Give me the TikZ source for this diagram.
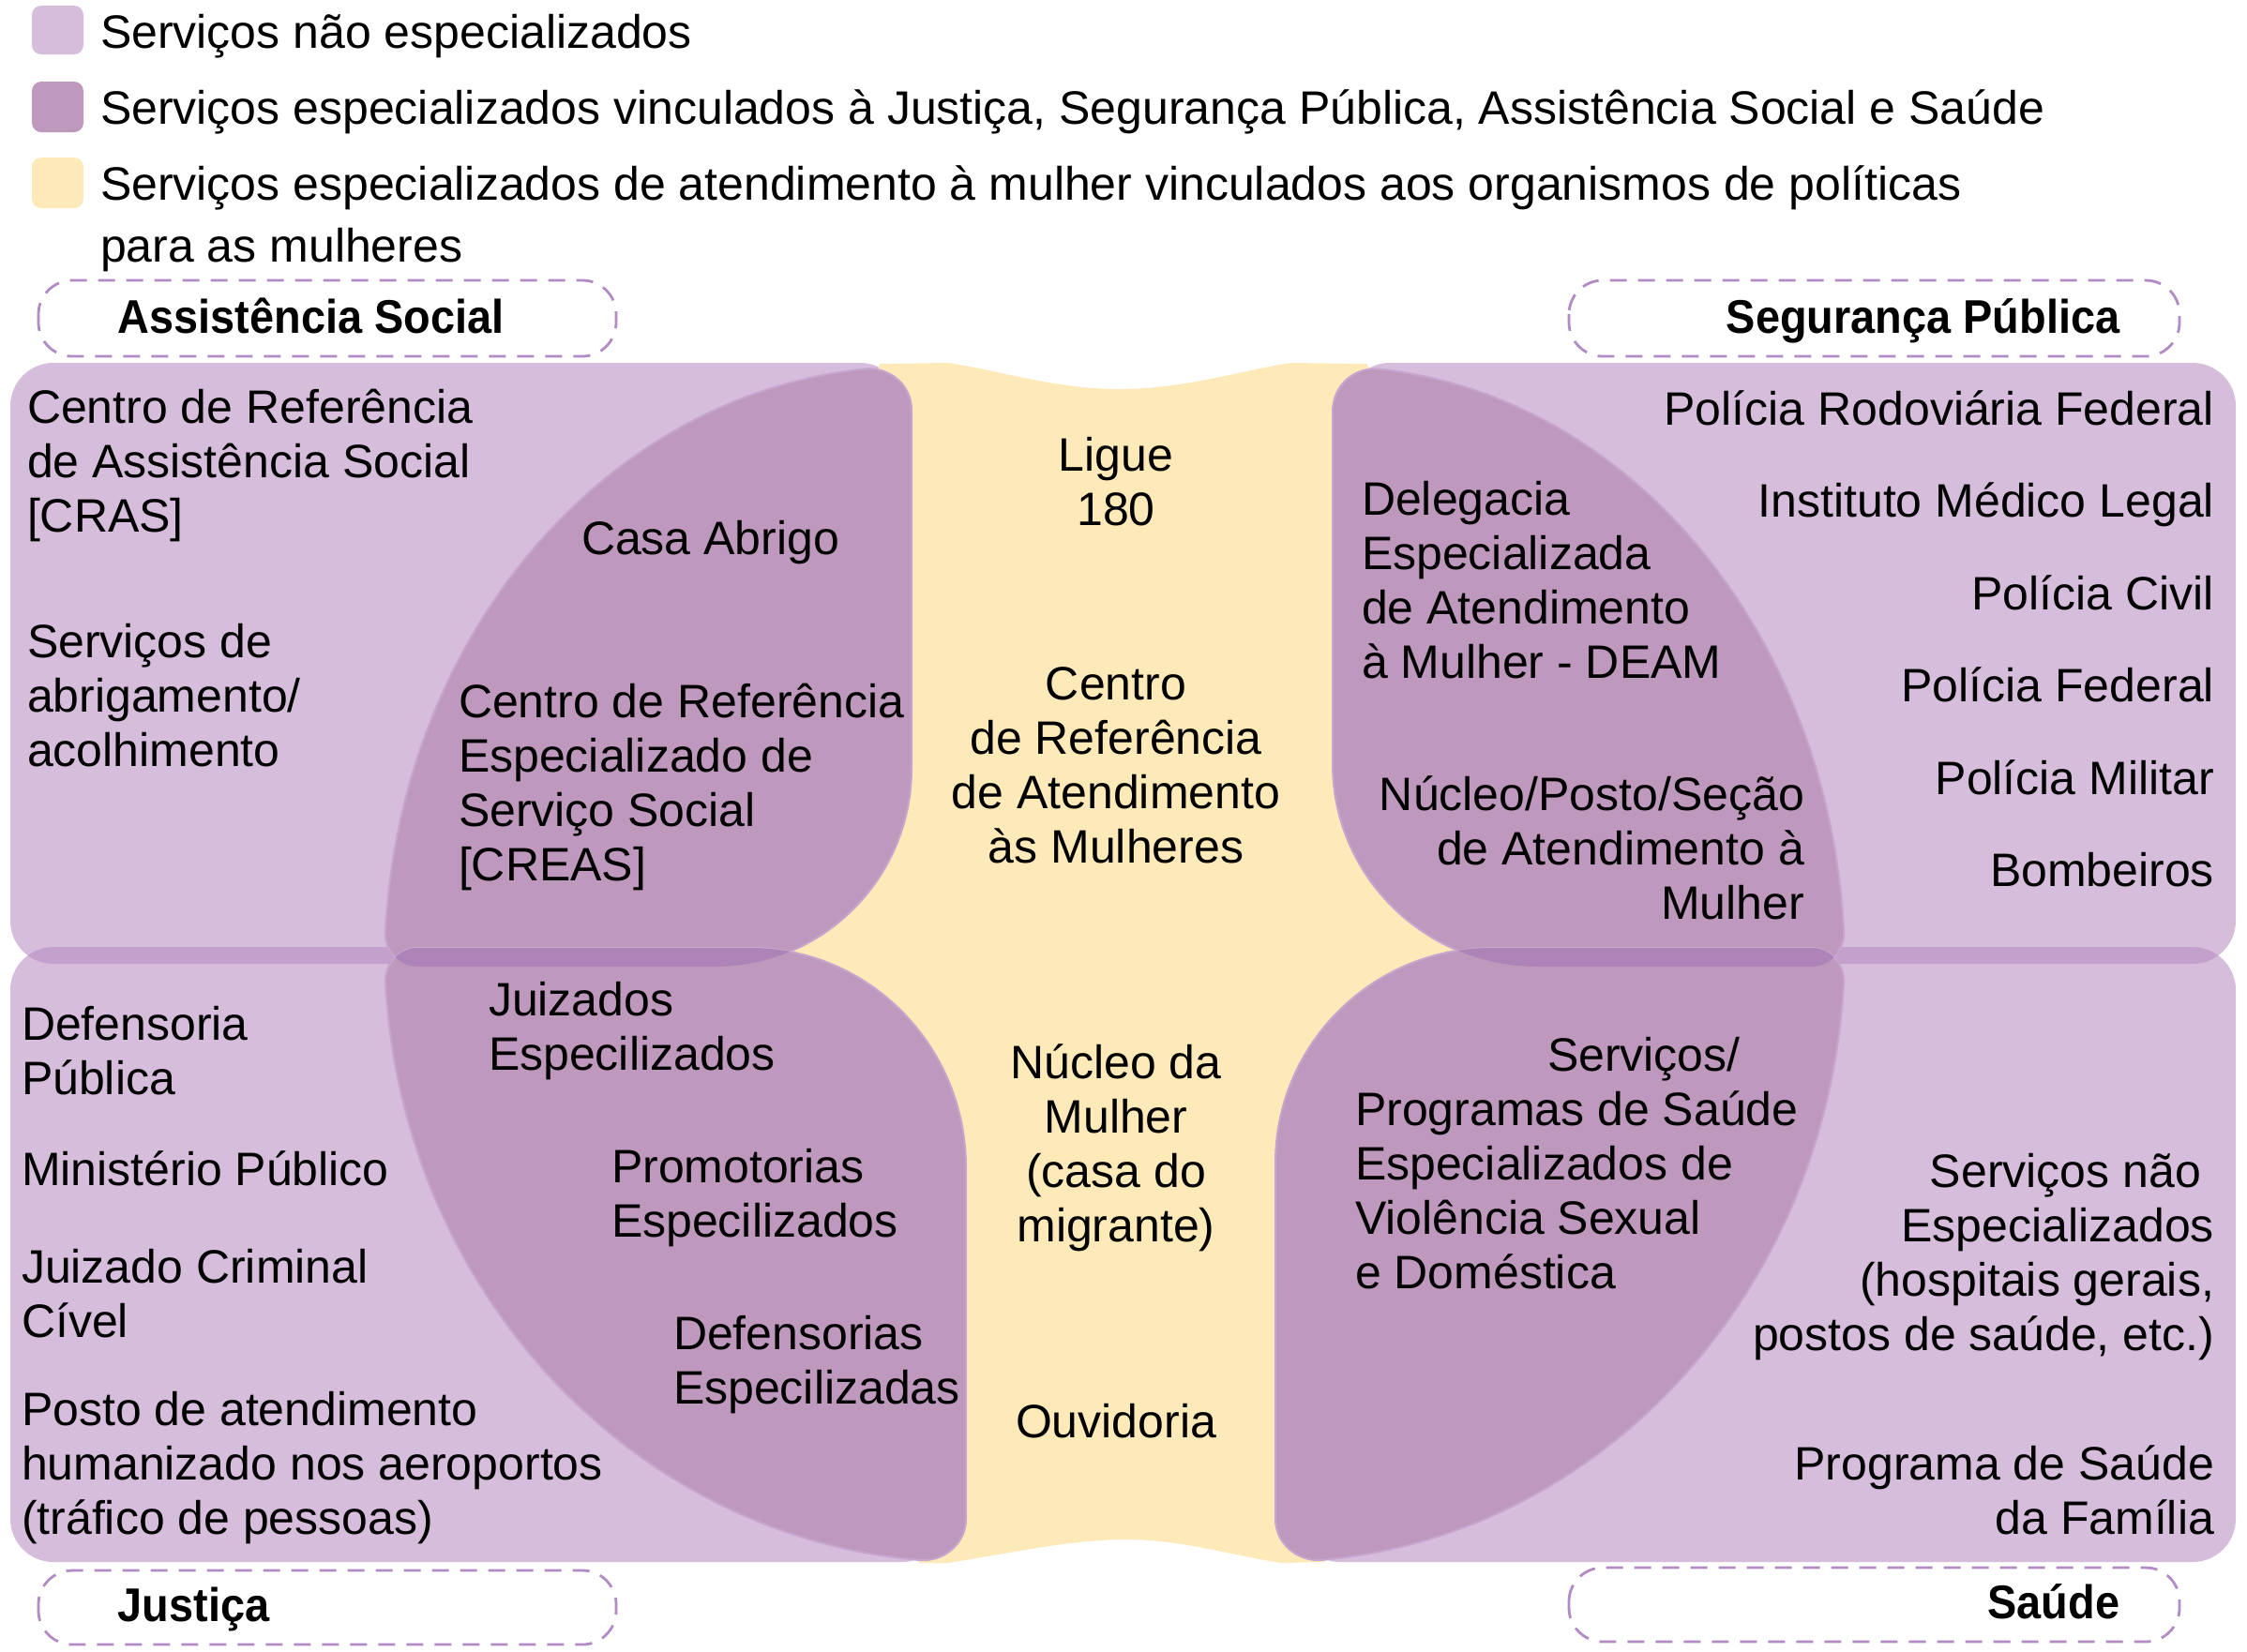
\documentclass[tikz,border=0pt]{standalone}
\usepackage{fontspec}
\setmainfont{Liberation Sans}
\newfontfamily\lblfont{Liberation Sans}[FakeStretch=0.93]
\definecolor{lightP}{HTML}{D5BDDB}
\definecolor{darkP}{HTML}{BF99BD}
\definecolor{yel}{HTML}{FEEAB9}
\definecolor{bandL}{HTML}{C3A1CC}
\definecolor{bandD}{HTML}{AE83B8}
\definecolor{dashC}{HTML}{B28BC4}
\definecolor{edgeC}{HTML}{C6A6CE}
\newcommand\pTL{(445,1031) .. controls (427,1031) and (410.8,1015) .. (410.8,996) arc[start angle=183.13,end angle=265.3,x radius=562,y radius=640] .. controls (951,393) and (972,412) .. (972,437) -- (972,820) .. controls (972,936) and (878,1031) .. (762,1031) -- cycle}
\newcommand\pBL{(445,1011) .. controls (427,1011) and (410.9,1027) .. (410.9,1046) arc[start angle=176.94,end angle=94.26,x radius=620,y radius=655] .. controls (1009,1664) and (1030,1645) .. (1030,1620) -- (1030,1245) .. controls (1030,1116) and (927,1011) .. (800,1011) -- cycle}
\newcommand\pTR{(1932,1031) .. controls (1950,1031) and (1966.2,1015) .. (1966.2,996) arc[start angle=356.87,end angle=274.83,x radius=546,y radius=640] .. controls (1442,393) and (1421,412) .. (1421,439) -- (1421,815) .. controls (1421,934) and (1519,1031) .. (1640,1031) -- cycle}
\newcommand\pBR{(1932,1011) .. controls (1950,1011) and (1966.1,1027) .. (1966.1,1046) arc[start angle=3.06,end angle=85.65,x radius=607,y radius=655] .. controls (1381,1664) and (1360,1645) .. (1360,1620) -- (1360,1240) .. controls (1360,1114) and (1463,1011) .. (1590,1011) -- cycle}
\newcommand\pLTL{(11,387) rectangle (963,1028)}
\newcommand\pLBL{(11,1010) rectangle (1008,1666)}
\newcommand\pLTR{(1436,387) rectangle (2384,1028)}
\newcommand\pLBR{(1383,1010) rectangle (2384,1666)}
\begin{document}
\begin{tikzpicture}[x=0.25pt,y=0.25pt,yscale=-1,
  txt/.style={font=\fontsize{12.5pt}{14.5pt}\selectfont, inner sep=0pt, outer sep=0pt},
  lbl/.style={font=\lblfont\bfseries\fontsize{12.6pt}{14.5pt}\selectfont, inner sep=0pt},
  panel/.style={fill=lightP, rounded corners=11.5pt},
  bandl/.style={fill=bandL, rounded corners=11.5pt},
  darkshape/.style={fill=darkP, draw=edgeC, line width=0.5pt},
  dashbox/.style={draw=dashC, line width=0.7pt, dash pattern=on 4.5pt off 3pt, rounded corners=9pt},
  legsq/.style={rounded corners=2.5pt}]
\useasboundingbox (0,0) rectangle (2396,1761);
% legend
\fill[lightP, legsq] (34,6) rectangle (89,58);
\fill[darkP, legsq] (34,87) rectangle (89,141);
\fill[yel, legsq] (34,168) rectangle (89,222);
\node[txt, anchor=base west] (leg1) at (107,51) {Serviços não especializados};
\node[txt, anchor=base west] (leg2) at (107,132) {Serviços especializados vinculados à Justiça, Segurança Pública, Assistência Social e Saúde};
\node[txt, anchor=base west, align=left, font=\fontsize{12.5pt}{16.5pt}\selectfont] (leg3) at (107,279) {Serviços especializados de atendimento à mulher vinculados aos organismos de políticas\\para as mulheres};
% dashed labels
\draw[dashbox] (41,299) rectangle (657,380);
\draw[dashbox] (1673,299) rectangle (2324,380);
\draw[dashbox] (41,1675) rectangle (657,1754);
\draw[dashbox] (1673,1672) rectangle (2324,1751);
\node[lbl, anchor=base west] (lAS) at (125,355) {Assistência Social};
\node[lbl, anchor=base east] (lSP) at (2261,355) {Segurança Pública};
\node[lbl, anchor=base west] (lJ) at (125,1729) {Justiça};
\node[lbl, anchor=base east] (lS) at (2261,1726) {Saúde};
% light panels
\fill[panel] \pLTL;
\fill[panel] \pLBL;
\fill[panel] \pLTR;
\fill[panel] \pLBR;
\begin{scope}\clip[rounded corners=11.5pt] \pLTL; \fill[bandl] \pLBL;\end{scope}
\begin{scope}\clip[rounded corners=11.5pt] \pLTR; \fill[bandl] \pLBR;\end{scope}
% yellow centre
\fill[yel] (938,388) -- (1011,387) .. controls (1065,395) and (1125,415) .. (1194,415) .. controls (1263,415) and (1323,395) .. (1377,387) -- (1458,388) -- (1590,1011) -- (1413,1666) -- (1366,1667) .. controls (1300,1656) and (1258,1642) .. (1200,1642) .. controls (1142,1642) and (1080,1656) .. (1011,1667) -- (980,1667) -- (795,1011) -- cycle;
% dark shapes
\path[darkshape] \pTL;
\path[darkshape] \pBL;
\path[darkshape] \pTR;
\path[darkshape] \pBR;
\begin{scope}\clip \pTL; \fill[bandD] \pBL;\end{scope}
\begin{scope}\clip \pTR; \fill[bandD] \pBR;\end{scope}
% texts top-left
\node[txt, anchor=base west, align=left] (cras) at (29,567) {Centro de Referência\\de Assistência Social\\{[CRAS]}};
\node[txt, anchor=base west, align=left] (abrig) at (29,817) {Serviços de\\abrigamento/\\acolhimento};
\node[txt, anchor=base west] (casa) at (620,591) {Casa Abrigo};
\node[txt, anchor=base west, align=left] (creas) at (489,939) {Centro de Referência\\Especializado de\\Serviço Social\\{[CREAS]}};
% centre
\node[txt, anchor=base, align=center] (ligue) at (1190,560) {Ligue\\180};
\node[txt, anchor=base, align=center] (cram) at (1190,920) {Centro\\de Referência\\de Atendimento\\às Mulheres};
\node[txt, anchor=base, align=center] (nucm) at (1190,1324) {Núcleo da\\Mulher\\(casa do\\migrante)};
\node[txt, anchor=base] (ouv) at (1190,1533) {Ouvidoria};
% top-right
\node[txt, anchor=base west, align=left] (deam) at (1452,723) {Delegacia\\Especializada\\de Atendimento\\à Mulher - DEAM};
\node[txt, anchor=base east, align=right] (npos) at (1924,980) {Núcleo/Posto/Seção\\de Atendimento à\\Mulher};
\node[txt, anchor=base east] (prf) at (2361,453) {Polícia Rodoviária Federal};
\node[txt, anchor=base east] (iml) at (2361,551) {Instituto Médico Legal};
\node[txt, anchor=base east] (pc) at (2361,650) {Polícia Civil};
\node[txt, anchor=base east] (pf) at (2361,748) {Polícia Federal};
\node[txt, anchor=base east] (pm) at (2361,847) {Polícia Militar};
\node[txt, anchor=base east] (bomb) at (2361,945) {Bombeiros};
% bottom-left
\node[txt, anchor=base west, align=left] (defp) at (23,1167) {Defensoria\\Pública};
\node[txt, anchor=base west] (mp) at (23,1264) {Ministério Público};
\node[txt, anchor=base west, align=left] (jcc) at (23,1426) {Juizado Criminal\\Cível};
\node[txt, anchor=base west, align=left] (posto) at (23,1636) {Posto de atendimento\\humanizado nos aeroportos\\(tráfico de pessoas)};
\node[txt, anchor=base west, align=left] (juiz) at (521,1141) {Juizados\\Especilizados};
\node[txt, anchor=base west, align=left] (prom) at (652,1319) {Promotorias\\Especilizados};
\node[txt, anchor=base west, align=left] (defe) at (718,1497) {Defensorias\\Especilizadas};
% bottom-right
\node[txt, anchor=base west] (serv) at (1650,1142) {Serviços/};
\node[txt, anchor=base west, align=left] (prog) at (1445,1374) {Programas de Saúde\\Especializados de\\Violência Sexual\\e Doméstica};
\node[txt, anchor=base east, align=right] (snes) at (2361,1440) {Serviços não\kern0.28em\\Especializados\\(hospitais gerais,\\postos de saúde, etc.)};
\node[txt, anchor=base east, align=right] (psf) at (2361,1636) {Programa de Saúde\\da Família};
\end{tikzpicture}
\end{document}
